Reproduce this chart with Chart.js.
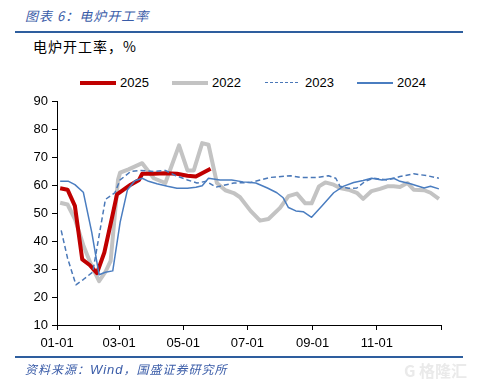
<!DOCTYPE html>
<html>
<head>
<meta charset="utf-8">
<script src="https://cdn.jsdelivr.net/npm/chart.js@4.4.1/dist/chart.umd.min.js"></script>
<style>
  body { margin: 0; width: 478px; height: 386px; background: #fff; position: relative; overflow: hidden;
         font-family: "Liberation Sans", Arial, sans-serif; }
  .abs { position: absolute; white-space: nowrap; }
  .title { left: 25px; top: 6px; font: italic 13px "Noto Sans CJK SC"; color: #3a5ca8; letter-spacing: 1px; }
  .rule { left: 15px; width: 448px; height: 2px; background: #2e5e9e; }
  .sub { left: 33px; top: 36px; font: 14px "Noto Sans CJK SC"; color: #000; letter-spacing: 1px; }
  .leg { top: 75px; font-size: 13px; color: #000; }
  .swatch { position: absolute; width: 36px; }
  .foot { left: 25px; top: 360px; font: italic 12px "Noto Sans CJK SC"; color: #3a5ca8; letter-spacing: 1px; }
  .foot i { font-family: "Liberation Sans", Arial, sans-serif; font-size: 13px; }
  .mark { left: 404px; top: 358px; font: bold 16px "Noto Sans CJK SC"; color: #eaeaea; }
  #wrap { position: absolute; left: 0; top: 90px; width: 470px; height: 270px; }
</style>
</head>
<body>
<div class="abs title">图表 6：电炉开工率</div>
<div class="abs rule" style="top:31px"></div>
<div class="abs sub">电炉开工率，%</div>

<div class="swatch abs" style="left:80px;top:81px;height:4px;background:#c00000"></div>
<div class="abs leg" style="left:120px">2025</div>
<div class="swatch abs" style="left:172px;top:81px;height:4px;background:#c3c3c3"></div>
<div class="abs leg" style="left:212px">2022</div>
<div class="swatch abs" style="left:265px;top:82px;width:33px;height:0;border-top:1.5px dashed #4a78b8"></div>
<div class="abs leg" style="left:305px">2023</div>
<div class="swatch abs" style="left:357px;top:82px;height:1.5px;background:#4a7dc0"></div>
<div class="abs leg" style="left:397px">2024</div>

<div id="wrap"><canvas id="c"></canvas></div>

<div class="abs rule" style="top:356px;height:1.5px"></div>
<div class="abs foot">资料来源：<i>Wind</i>，国盛证券研究所</div>
<div class="abs mark">G 格隆汇</div>

<script>
// x = day of year (0 = 01-01)
const tickDays = [0, 59, 120, 181, 243, 304, 365]
const tickLabels = ['01-01', '03-01', '05-01', '07-01', '09-01', '11-01', '']

const days2025 = [3, 10, 17, 24, 31, 38, 45, 52, 57, 70, 78, 81, 92, 103, 114, 124, 132, 146]
const vals2025 = [59, 58.5, 52.7, 33.5, 31.5, 28.6, 36, 48, 56.8, 60.3, 62, 64.2, 64.2, 64.4, 64.2, 63.5, 63.2, 66]

const days2022 = [3, 10, 17, 25, 32, 40, 46, 51, 58, 60, 68, 81, 92, 103, 116, 124, 130, 138, 144, 152, 160, 168, 174,
  184, 193, 201, 212, 220, 228, 236, 242, 249, 255, 263, 269, 277, 285, 291, 299, 307, 314, 320, 326, 333, 339, 349, 355, 363]
const vals2022 = [53.8, 53.2, 48, 38.6, 32, 25.7, 29, 33, 62, 64.6, 65.8, 68, 62.6, 60.9, 74.4, 65.4, 65.4, 75.2, 74.6,
  60.9, 58.3, 57.3, 55.8, 50.9, 47.4, 48, 52, 56.2, 57.1, 53.6, 53.6, 59.7, 61.1, 60.3, 59.1, 58.5, 57.4, 55.2, 58, 58.8,
  59.7, 59.7, 59.5, 60.9, 58.5, 58.3, 57.4, 55.2]

const days2023 = [4, 10, 18, 25, 34, 46, 55, 60, 70, 79, 92, 103, 113, 124, 133, 142, 151, 168, 184, 193, 203, 222, 231,
  247, 258, 265, 269, 277, 285, 293, 301, 314, 326, 339, 352, 363]
const vals2023 = [43.9, 34, 24.4, 26.3, 29, 55, 57.4, 62, 65, 65.4, 65, 65.4, 63.5, 62, 60.9, 61.5, 59.4, 60.9, 61.1, 62,
  62.9, 63.5, 62.9, 62.9, 63.5, 62.6, 59.7, 59, 59.1, 61.5, 62.6, 62, 63.2, 64.2, 63.5, 62.6]

const days2024 = [3, 11, 17, 25, 33, 40, 46, 53, 60, 67, 74, 81, 87, 95, 105, 114, 124, 132, 138, 144, 155, 166, 177,
  189, 200, 209, 215, 220, 227, 234, 242, 252, 263, 272, 282, 291, 299, 309, 320, 326, 336, 342, 349, 355, 363]
const vals2024 = [61.5, 61.5, 60.3, 57.6, 43.3, 28, 28.9, 29.4, 46.8, 58.5, 61.7, 62.6, 61.5, 60.6, 59.7, 59, 59, 59.4,
  59.9, 62.6, 62, 62, 61.3, 60.9, 59.1, 57.4, 55.6, 52.1, 50.9, 50.6, 48.6, 52.7, 57.4, 59.7, 61.1, 61.8, 62.6, 62, 62.6,
  61.5, 60.6, 59.9, 59.1, 59.7, 58.8]

const pts = (d, v) => d.map((x, i) => ({ x, y: v[i] }))

const font = { family: '"Liberation Sans", Arial, sans-serif', size: 13 }

new Chart(document.getElementById('c'), {
  type: 'line',
  data: {
    datasets: [
      { label: '2025', data: pts(days2025, vals2025), borderColor: '#c00000', borderWidth: 4, order: 2 },
      { label: '2022', data: pts(days2022, vals2022), borderColor: '#c3c3c3', borderWidth: 4, order: 3 },
      { label: '2023', data: pts(days2023, vals2023), borderColor: '#4a78b8', borderWidth: 1.5, borderDash: [5, 3], order: 1 },
      { label: '2024', data: pts(days2024, vals2024), borderColor: '#4a7dc0', borderWidth: 1.5, order: 0 }
    ]
  },
  options: {
    responsive: true,
    maintainAspectRatio: false,
    animation: false,
    elements: { point: { radius: 0 }, line: { tension: 0, borderJoinStyle: 'round' } },
    layout: { padding: { top: 8, right: 29, left: 0, bottom: 0 } },
    plugins: { legend: { display: false }, tooltip: { enabled: false } },
    scales: {
      x: {
        type: 'linear',
        min: 0,
        max: 365,
        afterBuildTicks: scale => { scale.ticks = tickDays.map(v => ({ value: v })) },
        afterFit: scale => { scale.height = 35 },
        grid: { drawOnChartArea: false, drawTicks: true, tickLength: 5, color: '#000' },
        border: { color: '#000', width: 1 },
        ticks: {
          autoSkip: false, maxRotation: 0, color: '#000', font, padding: 6,
          callback: (v, i) => tickLabels[i]
        }
      },
      y: {
        min: 10,
        max: 90,
        afterFit: scale => { scale.width = 57 },
        grid: { drawOnChartArea: false, drawTicks: true, tickLength: 5, color: '#000' },
        border: { color: '#000', width: 1 },
        ticks: { stepSize: 10, color: '#000', font, padding: 4 }
      }
    }
  }
})
</script>
</body>
</html>
